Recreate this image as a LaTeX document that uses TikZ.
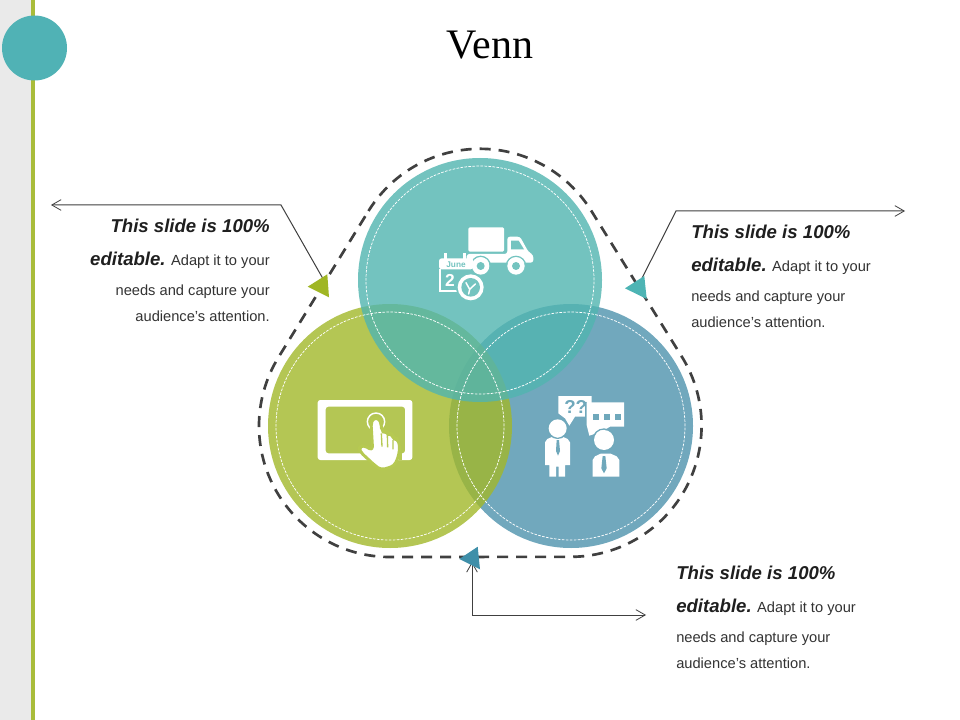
\documentclass[tikz,border=0pt]{standalone}
\usepackage{fontspec}
\setmainfont{Liberation Sans}
\newfontfamily\titlefont{Liberation Serif}
\usetikzlibrary{arrows.meta}
\definecolor{cLeft}{HTML}{A2B82A}
\definecolor{cRight}{HTML}{4E93AD}
\definecolor{cTop}{HTML}{51B5B0}
\definecolor{triLeft}{HTML}{A0B624}
\definecolor{triRight}{HTML}{4DB4B4}
\definecolor{triBottom}{HTML}{3F8FA9}
\definecolor{badge}{HTML}{50B2B5}
\definecolor{bar}{HTML}{A9BC3A}
\definecolor{barbg}{HTML}{EAEAEA}
\definecolor{ink}{HTML}{404040}
\definecolor{bgTop}{HTML}{74C4C0}
\definecolor{bgLeft}{HTML}{B6C952}
\definecolor{bgRight}{HTML}{6FA8BB}
\tikzset{
  venn/.style={circle,draw=none,minimum size=183pt,inner sep=0pt,fill opacity=0.8},
  ring/.style={circle,draw=white,line width=0.55pt,minimum size=171pt,inner sep=0pt,dash pattern=on 2pt off 1pt},
  leader/.style={draw=ink,line width=0.75pt},
  barbstart/.style={{Straight Barb[length=7pt,width=8pt,line width=0.6pt]}-},
  barbboth/.style={{Straight Barb[length=7pt,width=8pt,line width=0.6pt]}-{Straight Barb[length=7pt,width=8pt,line width=0.6pt]}},
  outline/.style={draw=ink,line width=2pt,dash pattern=on 8.25pt off 6pt},
  blurb/.style={text=black!80,inner sep=0pt,font=\fontsize{11}{19.5}\selectfont},
  ico/.style={fill=white,draw=none},
}
\newcommand{\hd}[1]{{\fontsize{13.95}{19.5}\selectfont\bfseries\itshape\color{black!88}#1}}
\begin{document}
\begin{tikzpicture}[x=0.75pt,y=-0.75pt]
\useasboundingbox (0,0) rectangle (960,720);
\fill[white] (0,0) rectangle (960,720);
% side bar
\fill[barbg] (0,0) rectangle (31,720);
\fill[bar] (31,0) rectangle (35,720);
\node[circle,fill=badge,minimum size=48.75pt,inner sep=0pt] (badge) at (34.5,48) {};
% title
\node[inner sep=0pt,font=\titlefont\fontsize{31.5}{36}\selectfont] (title) at (490,45) {Venn};
% contour
\begin{scope}[yshift=-540pt,y=0.75pt]
\draw[outline] (368.5,509) arc[start angle=148.3,end angle=31.7,radius=98.25pt]
  -- (682,363) arc[start angle=31.7,end angle=-90,radius=98.25pt]
  -- (390,163) arc[start angle=270,end angle=148.3,radius=98.25pt] -- cycle;
\end{scope}
% circles
\node[venn,fill=cRight] (right) at (571,426) {};
\node[venn,fill=cLeft] (left) at (390,426) {};
\node[venn,fill=cTop] (top) at (480,280) {};
\node[ring] (rright) at (571,426) {};
\node[ring] (rleft) at (390,426) {};
\node[ring] (rtop) at (480,280) {};
% leaders
\coordinate (lEnd) at (51,205);
\coordinate (lKnee) at (281,205);
\coordinate (lTri) at (326,284);
\coordinate (rEnd) at (905,211);
\coordinate (rKnee) at (676,211);
\coordinate (rTri) at (637,288);
\coordinate (bEnd) at (646,615);
\coordinate (bKnee) at (472,615);
\coordinate (bTri) at (472,562);
\draw[leader,barbstart] (lEnd) -- (lKnee) -- (lTri);
\draw[leader,barbstart] (rEnd) -- (rKnee) -- (rTri);
\draw[leader,barbboth] (bEnd) -- (bKnee) -- (bTri);
% triangles
\fill[triLeft] (307.7,286.7) -- (327.3,274.3) -- (329,297.3) -- cycle;
\fill[triRight] (625,288.3) -- (644.3,276) -- (646.7,299) -- cycle;
\fill[triBottom] (459.3,559) -- (477.7,546.7) -- (480,569.3) -- cycle;
% text blocks
\node[blurb,align=right,anchor=north east] (tleft) at (270,219)
 {\hd{This slide is 100\%}\\[5.25pt]\hd{editable.} Adapt it to your\\[3pt]needs and capture your\\audience's attention.};
\node[blurb,align=left,anchor=north west] (tright) at (691,225)
 {\hd{This slide is 100\%}\\[5.25pt]\hd{editable.} Adapt it to your\\[3pt]needs and capture your\\audience's attention.};
\node[blurb,align=left,anchor=north west] (tbottom) at (676,566)
 {\hd{This slide is 100\%}\\[5.25pt]\hd{editable.} Adapt it to your\\[3pt]needs and capture your\\audience's attention.};
% truck icon
\begin{scope}[shift={(420,210)},x=0.25pt,y=-0.25pt]
\fill[ico,rounded corners=1pt] (145,52) rectangle (252,125);
\fill[ico,rounded corners=2pt] (140,132) -- (262,132) -- (262,80) -- (300,80) -- (325,125) -- (340,135) -- (340,158) -- (140,158) -- cycle;
\fill[bgTop] (273,92) -- (296,92) -- (312,118) -- (273,118) -- cycle;
\draw[bgTop,line width=1pt] (182,168) circle (29);
\fill[ico] (182,168) circle (26);
\fill[bgTop] (182,168) circle (12);
\draw[bgTop,line width=1pt] (288,168) circle (29);
\fill[ico] (288,168) circle (26);
\fill[bgTop] (288,168) circle (12);
% calendar
\fill[ico,rounded corners=2pt] (57,145) rectangle (160,178);
\fill[ico] (57,178) rectangle (64,246);
\fill[ico] (57,240) rectangle (125,247);
\fill[ico] (72,130) rectangle (80,150);
\fill[ico] (130,130) rectangle (138,150);
\node[inner sep=0pt,text=bgTop,font=\bfseries\fontsize{6.2}{7}\selectfont] (june) at (108,164) {June};
\node[inner sep=0pt,text=white,font=\bfseries\fontsize{13}{14}\selectfont] (two) at (90,211) {2};
\fill[bgTop] (152,232) circle (44);
\fill[ico] (152,232) circle (39);
\fill[bgTop] (152,232) circle (28);
\draw[white,line width=1.1pt,line cap=round] (138,218) -- (149,238) -- (166,222) (149,238) -- (146,252);
\end{scope}
% people icon
\begin{scope}[shift={(530,385)},x=0.25pt,y=-0.25pt]
\fill[ico] (85,33) -- (185,33) -- (185,95) -- (135,95) -- (118,122) -- (105,100) -- (85,85) -- cycle;
\node[inner sep=0pt,text=bgRight,font=\bfseries\fontsize{14}{15}\selectfont] (qq) at (137,65) {??};
\draw[bgRight,line width=1pt] (168,50) -- (168,125);
\fill[ico] (170,52) -- (282,52) -- (282,125) -- (240,125) -- (215,140) -- (178,152) -- (170,120) -- cycle;
\fill[bgRight] (190,88) rectangle (208,105);
\fill[bgRight] (222,88) rectangle (240,105);
\fill[bgRight] (254,88) rectangle (272,105);
\fill[ico] (45,240) -- (45,172) -- (52,162) -- (68,155) -- (98,155) -- (113,162) -- (120,172) -- (120,240) -- (105,240) -- (105,275) -- (86,275) -- (86,245) -- (78,245) -- (78,275) -- (58,275) -- (58,240) -- cycle;
\fill[bgRight] (80,165) -- (87,165) -- (90,198) -- (84,212) -- (78,198) -- cycle;
\draw[bgRight,line width=1pt] (83,130) circle (30);
\fill[ico] (83,130) circle (27);
\draw[bgRight,line width=1pt] (222,165) circle (33);
\fill[ico] (222,165) circle (30);
\fill[ico] (188,275) -- (188,225) -- (195,214) -- (212,206) -- (242,206) -- (260,214) -- (268,225) -- (268,275) -- cycle;
\fill[bgRight] (218,213) -- (226,213) -- (230,250) -- (222,265) -- (214,250) -- cycle;
\end{scope}
% tablet icon
\begin{scope}[shift={(305,390)},x=0.25pt,y=-0.25pt]
\fill[ico,rounded corners=2pt,even odd rule] (38,30) rectangle (322,210) (62,50) rectangle (300,190);
\fill[bgLeft] (282,189) rectangle (292,211);
\draw[white,line width=1.1pt] (213,95) circle (26);
\draw[bgLeft,line width=2.2pt,fill=white,line join=round,rounded corners=3pt]
  (198,96) -- (206,84) -- (220,84) -- (228,96) -- (230,126) -- (245,124) -- (250,132) -- (262,132) -- (266,146) -- (278,146) -- (284,165) -- (282,195) -- (268,228) -- (228,240) -- (208,225) -- (165,185) -- (162,172) -- (175,165) -- (203,182) -- cycle;
\draw[bgLeft,line width=1pt] (229,130) -- (231,170) (247,135) -- (248,172) (264,150) -- (264,178);
\end{scope}
\end{tikzpicture}
\end{document}
